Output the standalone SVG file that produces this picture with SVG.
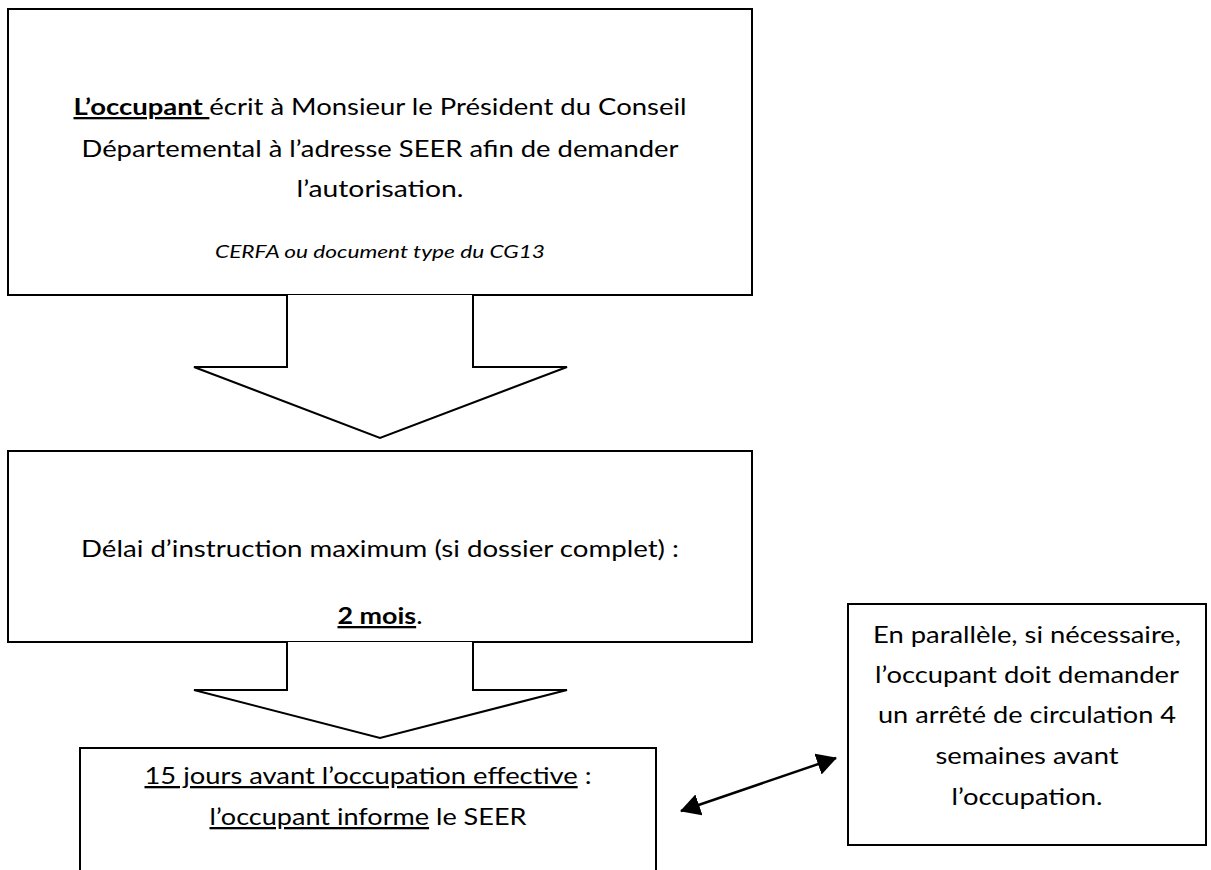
<svg xmlns="http://www.w3.org/2000/svg" width="1211" height="870" viewBox="0 0 1211 870">
<defs>
<style>
.box{fill:#fff;stroke:#000;stroke-width:2}
.arr{fill:#fff;stroke:#000;stroke-width:2;stroke-linejoin:miter}
.t{font-family:Lato,"Open Sans","Liberation Sans",sans-serif;font-size:23px;fill:#000;text-anchor:middle}
.it{font-style:italic;font-size:18px}
.b{font-weight:bold}
.u{text-decoration:underline}
.con{stroke:#000;stroke-width:2.5;fill:none}
</style>
<marker id="ah" markerUnits="userSpaceOnUse" viewBox="0 0 20 22" markerWidth="20" markerHeight="22" refX="19" refY="11" orient="auto-start-reverse">
<path d="M0,0 L20,11 L0,22 z" fill="#000"/>
</marker>
</defs>
<rect width="1211" height="870" fill="#fff"/>

<g id="node-demande">
<rect class="box" x="8" y="9" width="744" height="286"/>
<text class="t" x="380" y="115" textLength="613" lengthAdjust="spacingAndGlyphs"><tspan class="b u">L’occupant </tspan>écrit à Monsieur le Président du Conseil</text>
<text class="t" x="380" y="157" textLength="597" lengthAdjust="spacingAndGlyphs">Départemental à l’adresse SEER afin de demander</text>
<text class="t" x="380" y="197" textLength="167" lengthAdjust="spacingAndGlyphs">l’autorisation.</text>
<text class="t it" x="380" y="258" textLength="330" lengthAdjust="spacingAndGlyphs">CERFA ou document type du CG13</text>
</g>

<g id="node-delai">
<rect class="box" x="8" y="451" width="744" height="191"/>
<text class="t" x="380" y="557" textLength="598" lengthAdjust="spacingAndGlyphs">Délai d’instruction maximum (si dossier complet) :</text>
<text class="t" x="380" y="624" textLength="85" lengthAdjust="spacingAndGlyphs"><tspan class="b u">2 mois</tspan>.</text>
</g>

<g id="node-information">
<path class="box" d="M80,880 L80,748 L656,748 L656,880"/>
<text class="t" x="368" y="784" textLength="447" lengthAdjust="spacingAndGlyphs"><tspan class="u">15 jours avant l’occupation effective</tspan> :</text>
<text class="t" x="368" y="825" textLength="317" lengthAdjust="spacingAndGlyphs"><tspan class="u">l’occupant informe</tspan> le SEER</text>
</g>

<g id="node-arrete">
<rect class="box" x="848" y="604" width="358" height="241"/>
<text class="t" x="1027" y="643" textLength="308" lengthAdjust="spacingAndGlyphs">En parallèle, si nécessaire,</text>
<text class="t" x="1027" y="683" textLength="304" lengthAdjust="spacingAndGlyphs">l’occupant doit demander</text>
<text class="t" x="1027" y="723" textLength="298" lengthAdjust="spacingAndGlyphs">un arrêté de circulation 4</text>
<text class="t" x="1027" y="764" textLength="183" lengthAdjust="spacingAndGlyphs">semaines avant</text>
<text class="t" x="1027" y="805" textLength="151" lengthAdjust="spacingAndGlyphs">l’occupation.</text>
</g>

<g id="connectors">
<path class="arr" d="M287,295 L287,367 L194,367 L380,438 L567,367 L473,367 L473,295"/>
<path class="arr" d="M287,642 L287,690 L194,690 L380,738 L567,690 L473,690 L473,642"/>
<line class="con" x1="681" y1="811" x2="836" y2="758" marker-start="url(#ah)" marker-end="url(#ah)"/>
</g>
</svg>
